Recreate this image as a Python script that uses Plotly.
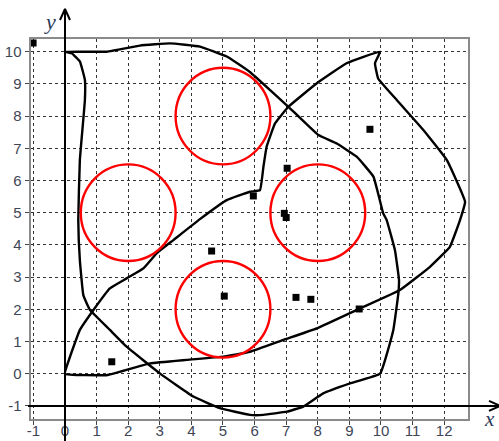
import plotly.graph_objects as go

# ---- data ----
tick_x = list(range(-1, 13))
tick_y = list(range(-1, 11))

pts_x = [-1.01, 1.48, 4.64, 5.04, 5.96, 7.03, 6.94, 7.0, 7.31, 7.78, 9.31, 9.65]
pts_y = [10.27, 0.37, 3.81, 2.41, 5.52, 6.38, 4.98, 4.85, 2.37, 2.31, 2.01, 7.59]

curveA_x = [0, 1.32, 2.37, 3.32, 4.27, 5.12, 5.85, 6.5, 7.07, 8.02, 8.6, 9.23, 9.76, 10.07,
            10.18, 10.44, 10.57, 10.55, 10.39, 9.97, 9.02, 8.17, 7.54, 7.02, 6.28, 5.85,
            4.9, 4.06, 3.0, 1.95, 1.42, 0.79, 0.58, 0.47, 0.42, 0.47, 0.63, 0.63, 0.47, 0.21, 0]
curveA_y = [10, 10, 10.19, 10.26, 10.16, 9.85, 9.37, 8.8, 8.29, 7.41, 7.15, 6.74, 6.12, 4.98,
            4.77, 3.84, 2.91, 2.5, 1.36, 0.0, -0.3, -0.61, -1.02, -1.18, -1.28, -1.28,
            -1.07, -0.71, 0.01, 0.84, 1.36, 1.98, 2.44, 3.53, 4.77, 6.64, 8.5, 9.12, 9.7, 9.95, 10]

curveB_x = [0, 0.16, 0.47, 0.9, 1.42, 1.95, 2.48, 2.9, 3.43, 4.27, 5.12, 5.85, 6.17, 6.28,
            6.38, 6.65, 7.07, 7.97, 8.91, 9.97, 9.81, 9.91, 10.5, 11.34, 12.08, 12.66, 12.5,
            12.18, 11.55, 10.6, 9.34, 7.97, 6.91, 5.85, 5.01, 3.85, 2.69, 1.35, 0]
curveB_y = [0, 0.53, 1.36, 1.98, 2.65, 2.96, 3.27, 3.74, 4.15, 4.8, 5.39, 5.65, 5.7, 6.43,
            7.05, 7.78, 8.29, 9.02, 9.64, 10.0, 9.64, 9.17, 8.5, 7.57, 6.64, 5.34, 4.77,
            3.94, 3.32, 2.6, 2.03, 1.41, 1.05, 0.68, 0.53, 0.43, 0.32, -0.04, 0]

circle_cx = [5, 2, 8, 5]
circle_cy = [8, 5, 5, 2]
circle_r = [1.5, 1.5, 1.5, 1.5]

# ---- layout constants (pixels) ----
W, H = 499, 441
XU, X0 = 31.6, 65.0      # px per x unit, px of x=0
YU, Y0 = 32.2, 373.7     # px per y unit, px of y=0 (from top)
x_rng = [-1.09, 12.76]
y_rng = [-1.41, 10.39]

def px_x(v):
    return X0 + v * XU

def px_y(v):
    return Y0 - v * YU

fig = go.Figure()

for xs, ys in [(curveA_x, curveA_y), (curveB_x, curveB_y)]:
    fig.add_trace(go.Scatter(x=xs, y=ys, mode="lines",
                             line=dict(color="black", width=2.4, shape="spline", smoothing=0.3),
                             hoverinfo="skip", showlegend=False, xaxis="x", yaxis="y"))

fig.add_trace(go.Scatter(x=pts_x, y=pts_y, mode="markers",
                         marker=dict(symbol="square", size=7, color="black"),
                         cliponaxis=False, showlegend=False, xaxis="x", yaxis="y"))

for cx, cy, r in zip(circle_cx, circle_cy, circle_r):
    fig.add_shape(type="circle", xref="x", yref="y", x0=cx - r, x1=cx + r, y0=cy - r, y1=cy + r,
                  line=dict(color="#ff0000", width=2.4))

# overlay axes covering whole figure: coordinate axes with arrows
x2_rng = [-X0 / XU, (W - X0) / XU]
y2_rng = [(Y0 - H) / YU, Y0 / YU]

ax_col = "black"
# vertical axis (x=0)
y_top = (Y0 - 9) / YU
fig.add_trace(go.Scatter(x=[0, 0], y=[y2_rng[0], y_top], mode="lines",
                         line=dict(color=ax_col, width=2), hoverinfo="skip",
                         showlegend=False, xaxis="x2", yaxis="y2"))
fig.add_trace(go.Scatter(x=[-5 / XU, 0, 5 / XU], y=[y_top - 11 / YU, y_top, y_top - 11 / YU],
                         mode="lines", line=dict(color=ax_col, width=2), hoverinfo="skip",
                         showlegend=False, xaxis="x2", yaxis="y2"))
# horizontal axis (y=-1)
x_right = (W + 1 - X0) / XU
fig.add_trace(go.Scatter(x=[-1.17, x_right], y=[-1, -1], mode="lines",
                         line=dict(color=ax_col, width=2), hoverinfo="skip",
                         showlegend=False, xaxis="x2", yaxis="y2"))
fig.add_trace(go.Scatter(x=[x_right - 11 / XU, x_right, x_right - 11 / XU],
                         y=[-1 + 5 / YU, -1, -1 - 5 / YU],
                         mode="lines", line=dict(color=ax_col, width=2), hoverinfo="skip",
                         showlegend=False, xaxis="x2", yaxis="y2"))

tick_font = dict(family="Liberation Sans, Arial", size=15, color="#3e4656")

fig.update_layout(
    width=W, height=H,
    margin=dict(l=0, r=0, t=0, b=0, autoexpand=False),
    paper_bgcolor="white",
    plot_bgcolor="rgba(0,0,0,0)",
    xaxis=dict(domain=[px_x(x_rng[0]) / W, px_x(x_rng[1]) / W], range=x_rng,
               tickvals=tick_x, ticktext=[str(v) for v in tick_x],
               showgrid=True, gridcolor="#333", griddash="dot", gridwidth=1,
               zeroline=False, showline=True, mirror=True, linecolor="#8a8a8a", linewidth=2,
               ticks="outside", ticklen=4, tickcolor="#444", tickwidth=1, ticklabelstandoff=-7,
               tickfont=tick_font, anchor="y", fixedrange=True, automargin=False),
    yaxis=dict(domain=[1 - px_y(y_rng[0]) / H, 1 - px_y(y_rng[1]) / H], range=y_rng,
               tickvals=tick_y, ticktext=[str(v) for v in tick_y],
               showgrid=True, gridcolor="#333", griddash="dot", gridwidth=1,
               zeroline=False, showline=True, mirror=True, linecolor="#8a8a8a", linewidth=2,
               ticks="outside", ticklen=4, tickcolor="#444", tickwidth=1,
               tickfont=tick_font, anchor="x", fixedrange=True, automargin=False),
    xaxis2=dict(domain=[0, 1], range=x2_rng, visible=False, anchor="y2", fixedrange=True,
                automargin=False),
    yaxis2=dict(domain=[0, 1], range=y2_rng, visible=False, anchor="x2", fixedrange=True,
                automargin=False),
    annotations=[
        dict(text="<i>y</i>", x=50 / W, y=1 - 21 / H, xref="paper", yref="paper",
             xanchor="center", yanchor="middle", showarrow=False,
             font=dict(family="Liberation Serif, Times New Roman", size=22, color="#2c3a58")),
        dict(text="<i>x</i>", x=489 / W, y=1 - 419 / H, xref="paper", yref="paper",
             xanchor="center", yanchor="middle", showarrow=False,
             font=dict(family="Liberation Serif, Times New Roman", size=21, color="#2c3a58")),
    ],
)

fig.write_html("out.html", post_script="document.body.style.margin='0';",
               config={"displayModeBar": False})
